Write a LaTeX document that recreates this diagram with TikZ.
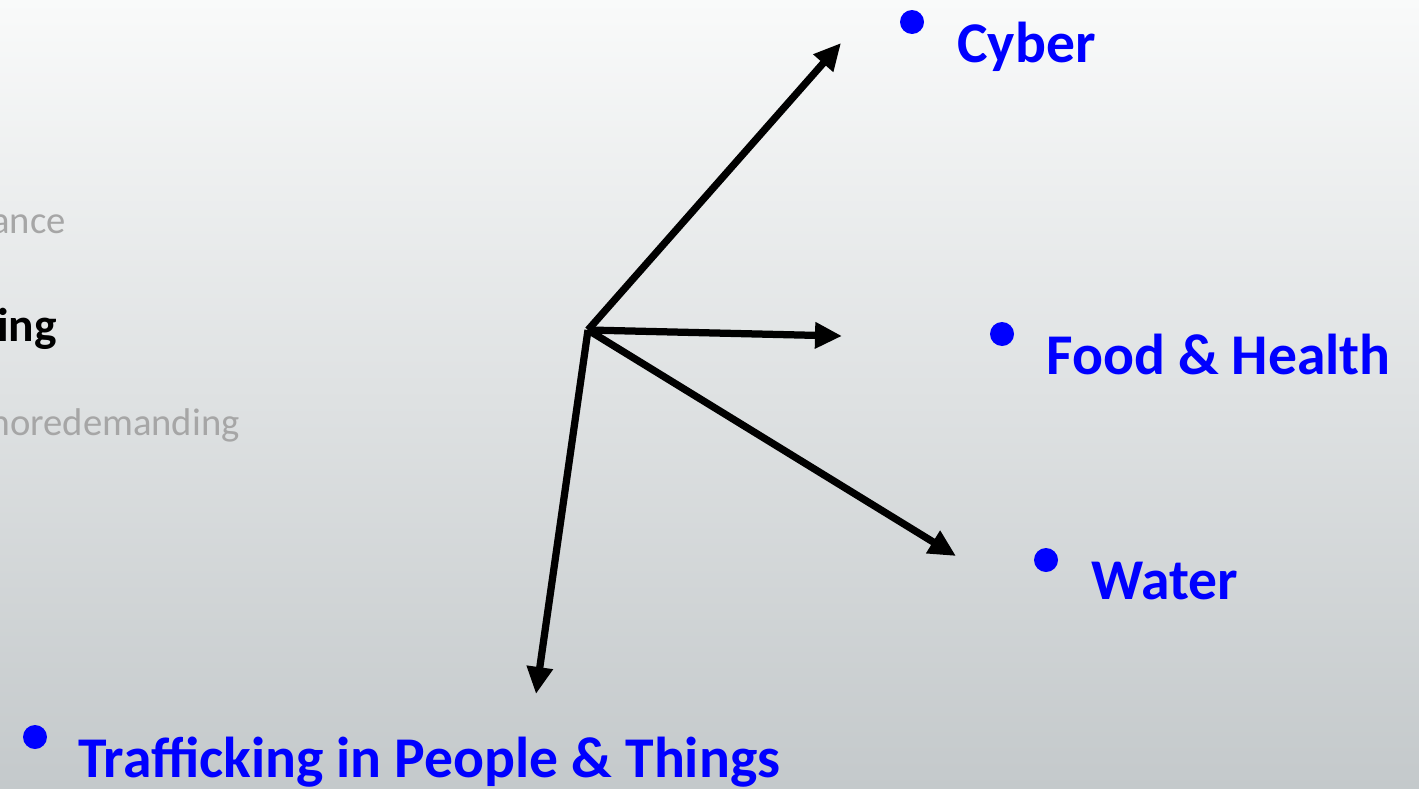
\documentclass[tikz,border=0pt]{standalone}
\usepackage{fontspec}
\setmainfont{Carlito}
\usetikzlibrary{arrows.meta,positioning}

\definecolor{bgtop}{RGB}{249,250,250}
\definecolor{bgbot}{RGB}{196,201,203}

\tikzset{
	spoke/.style={line width=0.145cm, -{Triangle[length=0.54cm,width=0.5cm]}},
	bul/.style={circle, fill=blue, inner sep=0pt, minimum size=0.48cm},
	topic/.style={anchor=base west, inner sep=0pt, text=blue, font=\fontsize{32.8}{38}\selectfont\bfseries},
	side/.style={anchor=base east, inner sep=0pt, font=\fontsize{22}{26}\selectfont}
}

\begin{document}
\begin{tikzpicture}[x=0.02cm,y=-0.02cm]
	\clip (0,0) rectangle (1419,788);
	\shade[top color=bgtop, bottom color=bgbot] (0,0) rectangle (1419,788);
	% left column, cut off at the edge
	\node[side, text=black!35] (l_0) at (66,233) {ance};
	\node[side, font=\fontsize{27}{30}\selectfont\bfseries] (l_1) at (57,341) {ing};
	\node[side, text=black!35] (l_2) at (240,435) {moredemanding};
	% topics
	\node[bul] (b_0) at (912,22) {};
	\node[topic] (t_0) at (957,62) {Cyber};
	\node[bul] (b_1) at (1002,334) {};
	\node[topic] (t_1) at (1046,374) {Food \& Health};
	\node[bul] (b_2) at (1046,560) {};
	\node[topic] (t_2) at (1091,599) {Water};
	\node[bul] (b_3) at (35,737) {};
	\node[topic] (t_3) at (78,777) {Trafficking in People \& Things};
	% spokes
	\coordinate (hub) at (588,330);
	\coordinate (e_0) at (841,43);
	\coordinate (e_1) at (842,336);
	\coordinate (e_2) at (956,556);
	\coordinate (e_3) at (536,694);
	\path[spoke]
	(hub) edge (e_0)
	(hub) edge (e_1)
	(hub) edge (e_2)
	(hub) edge (e_3);
\end{tikzpicture}
\end{document}
